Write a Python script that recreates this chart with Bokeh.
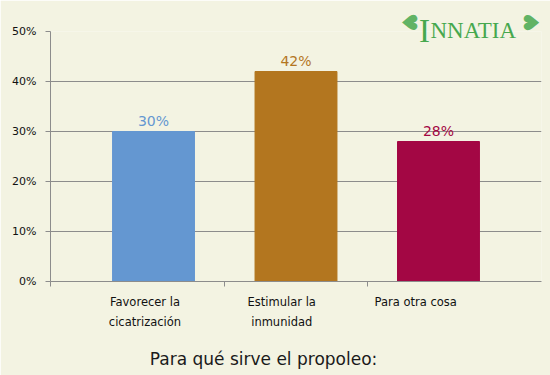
import math
from bokeh.plotting import figure
from bokeh.models import ColumnDataSource, Range1d, FixedTicker, PrintfTickFormatter
from bokeh.core.properties import value
from bokeh.embed import file_html
from bokeh.resources import INLINE

categories = ["Favorecer la\ncicatrización", "Estimular la\ninmunidad", "Para otra cosa"]
values = [30, 42, 28]
value_labels = ["30%", "42%", "28%"]
colors = ["#6497D1", "#B3761F", "#A30744"]
y_ticks = [0, 10, 20, 30, 40, 50]
title_text = "Para qué sirve el propoleo:"

BG = "#F3F3E2"
GRID = "#8C8C8C"
FONT = "DejaVu Sans"

idx = list(range(len(categories)))
label_shift = [-0.06, -0.10, -0.16]
x_ticks = [-0.723, 0.5, 1.5]

src = ColumnDataSource(dict(x=idx, top=values, color=colors, lab=value_labels))
cat_src = ColumnDataSource(dict(x=[i + s for i, s in zip(idx, label_shift)],
                                y=[-2.6] * len(idx), text=categories))

p = figure(width=550, height=375, output_backend="svg", toolbar_location=None,
           title=None,
           x_range=Range1d(-0.723, 2.723), y_range=Range1d(0, 50),
           min_border_left=50, min_border_right=9, min_border_top=31, min_border_bottom=94)
p.background_fill_color = BG
p.border_fill_color = BG
p.outline_line_color = None

p.vbar(x="x", top="top", width=0.575, color="color", source=src)
p.text(x="x", y="top", text="lab", text_color="color", source=src,
       text_align="center", text_baseline="bottom", y_offset=-3,
       text_font=value(FONT), text_font_size="14px")

cr = p.text(x="x", y="y", text="text", source=cat_src, text_align="center",
            text_baseline="top", text_font=value(FONT), text_font_size="11.5px",
            text_color="#111111", text_line_height=1.43)
cr.level = "overlay"

# axes
p.xgrid.visible = False
p.ygrid.grid_line_color = GRID
p.ygrid.ticker = FixedTicker(ticks=y_ticks)
p.yaxis.ticker = FixedTicker(ticks=y_ticks)
p.yaxis.formatter = PrintfTickFormatter(format="%d%%")
p.yaxis.major_label_text_font = FONT
p.yaxis.major_label_text_font_size = "11px"
p.yaxis.major_label_text_color = "#111111"
p.yaxis.major_label_standoff = 9
p.yaxis.major_tick_out = 5
p.yaxis.major_tick_in = 0
p.yaxis.minor_tick_out = 0
p.yaxis.minor_tick_in = 0
p.yaxis.axis_line_color = GRID
p.yaxis.major_tick_line_color = GRID

p.xaxis.ticker = FixedTicker(ticks=x_ticks)
p.xaxis.major_label_overrides = {t: "" for t in x_ticks}
p.xaxis.major_label_text_font_size = "11px"
p.xaxis.major_tick_out = 5
p.xaxis.major_tick_in = 0
p.xaxis.minor_tick_out = 0
p.xaxis.axis_line_color = GRID
p.xaxis.major_tick_line_color = GRID

# title at bottom
tr = p.text(x=[0.772], y=[-15.4], text=[title_text], text_align="center",
            text_baseline="middle", text_font=value(FONT), text_font_size="17px",
            text_color="#1a1a1a")
tr.level = "overlay"

# logo
green = "#46A84E"
logo_parts = [
    dict(x=1.79, y=51.8, t="♥", font="DejaVu Sans", size="21px", align="center", base="middle", a=-math.pi / 2),
    dict(x=1.902, y=50.2, t="I", font="Liberation Serif", size="33px", align="center", base="alphabetic", a=0),
    dict(x=1.944, y=50.2, t="NNATIA", font="Liberation Serif", size="23px", align="left", base="alphabetic", a=0),
    dict(x=2.655, y=51.8, t="♥", font="DejaVu Sans", size="21px", align="center", base="middle", a=math.pi / 2),
]
for part in logo_parts:
    r = p.text(x=[part["x"]], y=[part["y"]], text=[part["t"]], text_align=part["align"],
               text_baseline=part["base"], text_font=value(part["font"]),
               text_font_size=part["size"], text_color=green, angle=part["a"],
               text_alpha=0.85 if part["t"] == "♥" else 1.0)
    r.level = "overlay"

open("out.html", "w").write(file_html(p, INLINE))
